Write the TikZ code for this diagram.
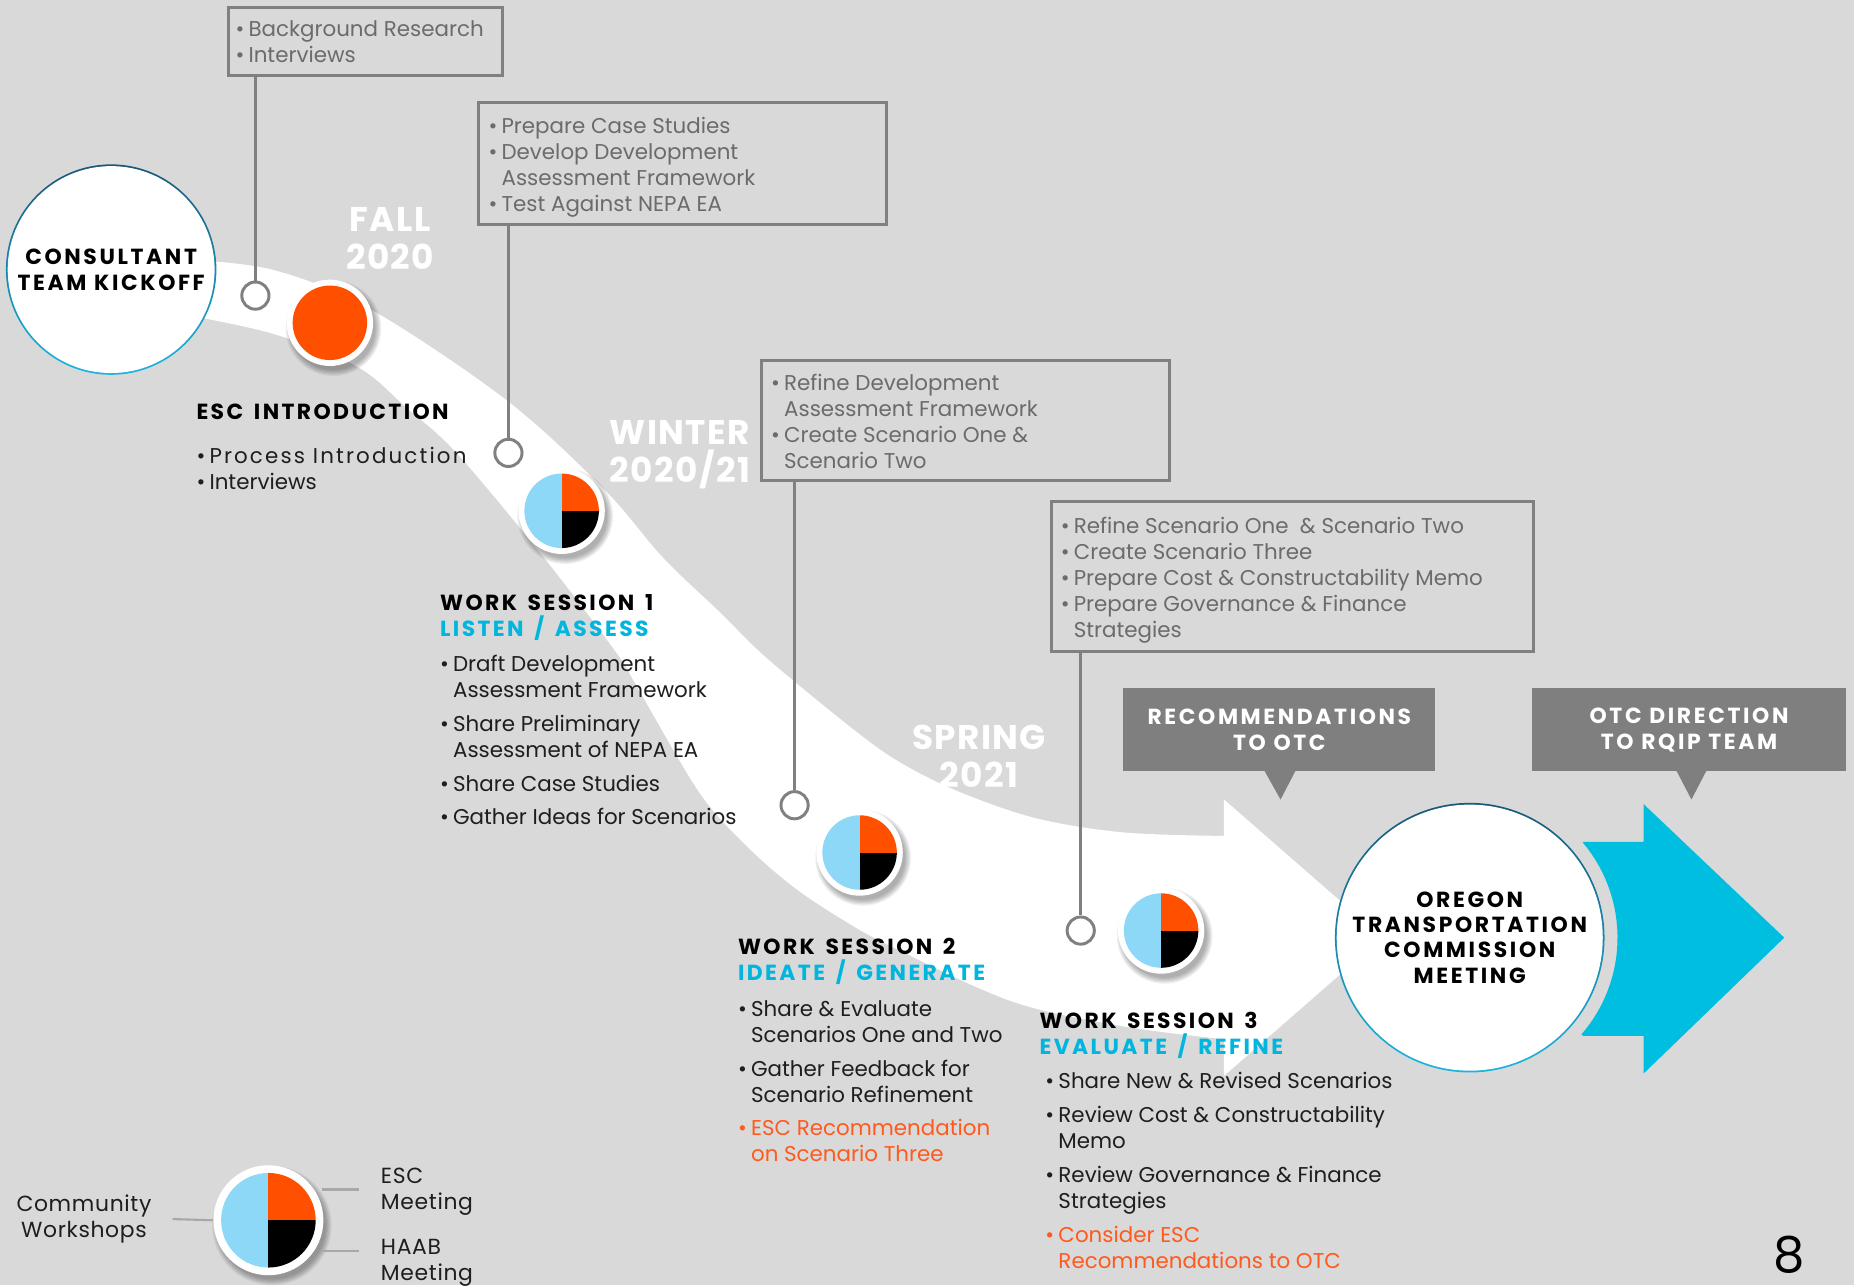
\documentclass[tikz,border=0pt]{standalone}
\usepackage{fontspec}
\setmainfont{Poppins}
\usetikzlibrary{calc}
\definecolor{bg}{HTML}{D9D9D9}
\definecolor{porange}{HTML}{FF5000}
\definecolor{pblue}{HTML}{8DD7F7}
\definecolor{tcyan}{HTML}{00B5DE}
\definecolor{acyan}{HTML}{00BEDF}
\definecolor{frgrey}{HTML}{808080}
\definecolor{btgrey}{HTML}{6B6B6B}
\definecolor{cgrey}{HTML}{7F7F7F}
\definecolor{tdark}{HTML}{1A5878}
\definecolor{tring}{HTML}{19B6DE}
\definecolor{otxt}{HTML}{FF5A1E}
\definecolor{ltxt}{HTML}{1E1E1E}
\definecolor{lgrey}{HTML}{A8A8A8}
\newcommand\bodyfont{\fontsize{18.1}{22}\selectfont}
\newcommand\ttlfont{\fontsize{18.5}{22}\selectfont\bfseries\addfontfeature{LetterSpace=11}\spaceskip=9pt\relax}
\newcommand\capfont{\fontsize{18.5}{22}\selectfont\bfseries\addfontfeature{LetterSpace=12}\spaceskip=6.5pt\relax}
\newcommand\seafont{\fontsize{29}{32}\selectfont\bfseries\addfontfeature{LetterSpace=4}}
\newcommand\itb{\makebox[11pt][l]{•}}
\newcommand\itc{\makebox[11pt][l]{}}
\newcommand\dotshadow[3]{%
  \foreach \k in {0,...,5}{\fill[black,opacity=0.06] (#1+3,#2+4.5) circle ({#3+4-\k});}}
\newcommand\piedot[4]{%
  \dotshadow{#1}{#2}{#4}
  \fill[white] (#1,#2) circle (#4);
  \begin{scope}
    \clip (#1,#2) circle (#3);
    \fill[pblue] (#1-#3-1,#2-#3-1) rectangle (#1,#2+#3+1);
    \fill[porange] (#1,#2-#3-1) rectangle (#1+#3+1,#2);
    \fill[black] (#1,#2) rectangle (#1+#3+1,#2+#3+1);
  \end{scope}}
\tikzset{
  frame/.style={draw=frgrey, line width=2.5pt, rectangle, inner sep=0pt},
  boxtxt/.style={anchor=north west, inner sep=0pt, align=left, font=\bodyfont, text=btgrey},
  txt/.style={anchor=north west, inner sep=0pt, align=left, font=\bodyfont, text=ltxt},
  ttl/.style={anchor=north west, inner sep=0pt, align=left, font=\ttlfont, text=black},
  season/.style={inner sep=0pt, align=center, font=\seafont, text=white},
  hollow/.style={circle, draw=frgrey, line width=2.5pt, fill=white, minimum size=23pt, inner sep=0pt},
  conn/.style={draw=frgrey, line width=2.5pt},
  callout/.style={rectangle, fill=cgrey, inner sep=0pt, align=center, text=white, font=\capfont},
  bigcirc/.style={circle, fill=white, inner sep=0pt, align=center, font=\capfont, text=black},
  legline/.style={draw=lgrey, line width=1.8pt}
}
\begin{document}
\begin{tikzpicture}[x=1pt,y=-1pt]
\useasboundingbox (0,0) rectangle (1568,1087);
\fill[bg] (0,0) rectangle (1568,1087);
% white band
\fill[white] plot[smooth, tension=0.55] coordinates {(150,219) (230,228) (314,262) (429,339) (511,414) (561,472) (609,518) (650,558) (727,621) (765,647) (812,670) (876,692) (950,704) (1036,707)}
  -- plot[smooth, tension=0.55] coordinates {(1036,879) (950,868) (856,847) (755,801) (713,778) (671,750) (632,716) (592,671) (540,583) (522,553) (462,474) (387,384) (344,345) (302,310) (230,282) (150,265)} -- cycle;
\fill[white] (1030,707) -- (1035,707) -- (1035,676) -- (1169,793) -- (1035,910) -- (1035,879) -- (1030,879) -- cycle;
% cyan arrow
\fill[acyan] (1339,712) -- (1390,712) -- (1390,680) -- (1509,793) -- (1390,908) -- (1390,876) -- (1339,876)
  -- plot[domain=41:-40, samples=30] ({1243+125*cos(\x)},{793+125*sin(\x)}) -- cycle;
% boxes
\node[frame, minimum width=232pt, minimum height=58pt] (b1) at (309,35) {};
\node[frame, minimum width=345pt, minimum height=103pt] (b2) at (577.5,138.5) {};
\node[frame, minimum width=345pt, minimum height=101pt] (b3) at (816.5,355.5) {};
\node[frame, minimum width=408pt, minimum height=127pt] (b4) at (1093,487.5) {};
\node[boxtxt] (b1t) at (199,17) {\itb Background Research\\\itb Interviews};
\node[boxtxt] (b2t) at (413,99) {\itb Prepare Case Studies\\\itb Develop Development\\\itc Assessment Framework\\\itb Test Against NEPA EA};
\node[boxtxt] (b3t) at (652,316) {\itb Refine Development\\\itc Assessment Framework\\\itb Create Scenario One \&\\\itc Scenario Two};
\node[boxtxt] (b4t) at (897,437) {\itb Refine Scenario One\ \ \& Scenario Two\\\itb Create Scenario Three\\\itb Prepare Cost \& Constructability Memo\\\itb Prepare Governance \& Finance\\\itc Strategies};
% small circles and connectors
\node[hollow] (s1) at (216,250) {};
\node[hollow] (s2) at (430,383) {};
\node[hollow] (s3) at (672,681) {};
\node[hollow] (s4) at (914,787) {};
\draw[conn] (b1.south -| s1) -- (s1.north);
\draw[conn] (b2.south -| s2) -- (s2.north);
\draw[conn] (b3.south -| s3) -- (s3.north);
\draw[conn] (b4.south -| s4) -- (s4.north);
% callouts
\node[callout, minimum width=264pt, minimum height=70pt] (r1) at (1082,617) {RECOMMENDATIONS\\TO OTC};
\fill[cgrey] ($(r1.south)+(-13,-1)$) -- ($(r1.south)+(14,-1)$) -- ($(r1.south)+(1,24)$) -- cycle;
\node[callout, minimum width=265pt, minimum height=70pt] (r2) at (1428.5,617) {OTC DIRECTION\\TO RQIP TEAM};
\fill[cgrey] ($(r2.south)+(-11,-1)$) -- ($(r2.south)+(15,-1)$) -- ($(r2.south)+(2,24)$) -- cycle;
% big circles
\shade[top color=tdark, bottom color=tring] (94,228) circle (89);
\node[bigcirc, minimum size=175pt] (c0) at (94,228) {CONSULTANT\\TEAM KICKOFF};
\shade[top color=tdark, bottom color=tring] (1243,793) circle (114);
\node[bigcirc, minimum size=225pt, font=\fontsize{18.5}{21.3}\selectfont\bfseries\addfontfeature{LetterSpace=12}] (otc) at (1243,793) {OREGON\\TRANSPORTATION\\COMMISSION\\MEETING};
% dots
\dotshadow{279}{273}{36.5}
\fill[white] (279,273) circle (36.5);
\fill[porange] (279,273) circle (31.5);
\piedot{475}{432}{31.5}{36.5}
\piedot{727}{721}{31.5}{36.5}
\piedot{982}{787}{31.5}{36.5}
% seasons
\node[season] (fall) at (330,202) {FALL\\2020};
\node[season] (winter) at (575,384.5) {WINTER\\2020/21};
\node[season] (spring) at (828,639.5) {SPRING\\2021};
% ESC intro
\node[ttl] (esct) at (166,341) {ESC INTRODUCTION};
\node[txt] (escb) at (166,378) {{\addfontfeature{LetterSpace=10}\itb Process Introduction}\\\itb Interviews};
% WS1
\node[ttl] (w1t) at (372,503) {WORK SESSION 1\\\textcolor{tcyan}{LISTEN / ASSESS}};
\node[txt] (w1b) at (372,554) {\itb Draft Development\\\itc Assessment Framework\\[6.5pt]\itb Share Preliminary\\\itc Assessment of NEPA EA\\[6.5pt]\itb Share Case Studies\\[6.5pt]\itb Gather Ideas for Scenarios};
% WS2
\node[ttl] (w2t) at (624,793) {WORK SESSION 2\\\textcolor{tcyan}{IDEATE / GENERATE}};
\node[txt] (w2b) at (624,846) {\itb Share \& Evaluate\\\itc Scenarios One and Two\\[6.5pt]\itb Gather Feedback for\\\itc Scenario Refinement\\[6.5pt]\textcolor{otxt}{\itb ESC Recommendation}\\\textcolor{otxt}{\itc on Scenario Three}};
% WS3
\node[ttl] (w3t) at (879,856) {WORK SESSION 3\\\textcolor{tcyan}{EVALUATE / REFINE}};
\node[txt] (w3b) at (884,907) {\itb Share New \& Revised Scenarios\\[6.5pt]\itb Review Cost \& Constructability\\\itc Memo\\[6.5pt]\itb Review Governance \& Finance\\\itc Strategies\\[6.5pt]\textcolor{otxt}{\itb Consider ESC}\\\textcolor{otxt}{\itc Recommendations to OTC}};
% legend
\dotshadow{227}{1032}{46.5}
\node[circle, fill=white, minimum size=93pt, inner sep=0pt] (lp) at (227,1032) {};
\begin{scope}
  \clip (227,1032) circle (40);
  \fill[pblue] (186,991) rectangle (227,1073);
  \fill[porange] (227,991) rectangle (268,1032);
  \fill[black] (227,1032) rectangle (268,1073);
\end{scope}
\coordinate (l1) at (146,1031);
\draw[legline] (l1) -- (lp.west);
\coordinate (l2a) at (272,1006);
\coordinate (l2b) at (304,1006);
\draw[legline] (l2a) -- (l2b);
\coordinate (l3a) at (272,1058);
\coordinate (l3b) at (304,1058);
\draw[legline] (l3a) -- (l3b);
\node[inner sep=0pt, align=center, font=\fontsize{18.5}{22}\selectfont\addfontfeature{LetterSpace=3}, text=ltxt] (cw) at (71,1031) {Community\\Workshops};
\node[txt, font=\fontsize{18.5}{22}\selectfont\addfontfeature{LetterSpace=3}] (escm) at (322,988) {ESC\\Meeting};
\node[txt, font=\fontsize{18.5}{22}\selectfont\addfontfeature{LetterSpace=3}] (haab) at (322,1048) {HAAB\\Meeting};
\node[inner sep=0pt, font=\fontsize{42}{46}\selectfont, text=black] (pg) at (1513,1061) {8};
\end{tikzpicture}
\end{document}
